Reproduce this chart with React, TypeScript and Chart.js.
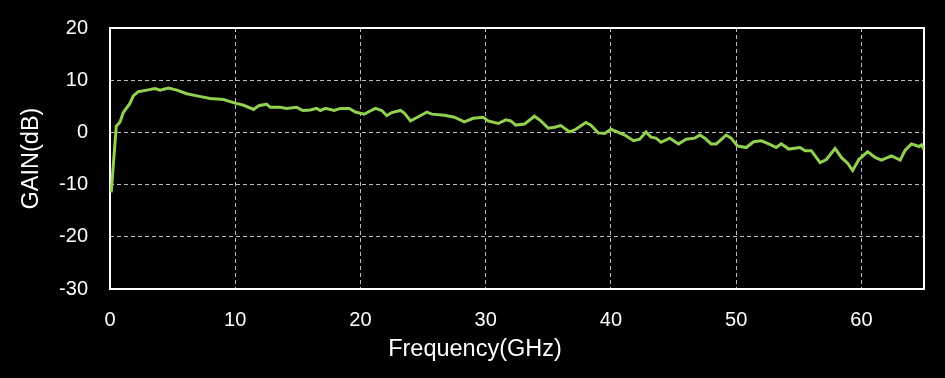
import React, { useEffect, useRef } from "react";
import { Chart, registerables } from "chart.js";

Chart.register(...registerables);

const freqGHz = [
  0.1, 0.5, 0.8, 1.06, 1.6, 1.86, 2.26, 2.94, 3.6, 4.0, 4.67, 5.34, 6.14, 6.94, 8.0, 9.07, 9.6, 10.0,
  10.67, 11.47, 11.87, 12.5, 12.8, 13.6, 14.1, 14.9, 15.4, 16.0, 16.5, 16.8, 17.2, 17.9, 18.4, 19.1,
  19.6, 20.3, 20.7, 21.2, 21.7, 22.1, 22.5, 23.2, 23.5, 24.0, 24.7, 25.3, 25.7, 26.7, 27.5, 28.3,
  29.0, 29.8, 30.2, 31.0, 31.6, 32.0, 32.4, 33.1, 33.9, 34.4, 35.0, 35.5, 36.0, 36.7, 37.2, 38.0,
  38.4, 39.0, 39.5, 40.0, 40.5, 41.1, 41.8, 42.3, 42.8, 43.2, 43.6, 44.0, 44.7, 45.4, 46.0, 46.7,
  47.1, 47.5, 48.0, 48.4, 48.8, 49.2, 49.6, 50.1, 50.8, 51.4, 52.0, 52.6, 53.2, 53.6, 54.2, 55.1,
  55.5, 56.0, 56.7, 57.2, 57.9, 58.4, 58.9, 59.3, 59.8, 60.5, 61.1, 61.6, 62.4, 63.1, 63.5, 64.0,
  64.6, 64.8, 65.0,
];

const gainDb = [
  -11.5, 1.2, 2.0, 3.8, 5.6, 7.0, 7.8, 8.1, 8.4, 8.1, 8.5, 8.1, 7.4, 7.0, 6.5, 6.3, 5.9, 5.6,
  5.2, 4.4, 5.1, 5.4, 4.8, 4.8, 4.6, 4.8, 4.2, 4.3, 4.6, 4.2, 4.6, 4.2, 4.6, 4.6,
  3.9, 3.5, 4.0, 4.6, 4.2, 3.2, 3.8, 4.2, 3.7, 2.2, 3.1, 3.9, 3.5, 3.3, 2.9, 2.0,
  2.7, 2.9, 2.2, 1.7, 2.4, 2.2, 1.4, 1.6, 3.1, 2.2, 0.8, 1.0, 1.3, 0.1, 0.6, 1.9,
  1.4, -0.1, -0.2, 0.6, 0.1, -0.5, -1.6, -1.3, 0.1, -0.9, -1.1, -1.9, -1.1, -2.2, -1.3, -1.1,
  -0.5, -1.1, -2.2, -2.2, -1.4, -0.5, -1.1, -2.6, -2.9, -1.8, -1.6, -2.2, -2.9, -2.2, -3.2, -2.9,
  -3.5, -3.5, -5.8, -5.2, -3.1, -4.8, -5.9, -7.3, -5.2, -3.7, -4.8, -5.3, -4.5, -5.3, -3.4, -2.2,
  -2.7, -2.4, -3.2,
];

const xTickValues = [0, 10, 20, 30, 40, 50, 60];
const yTickValues = [-30, -20, -10, 0, 10, 20];
const xTitle = "Frequency(GHz)";
const yTitle = "GAIN(dB)";

const FONT = '"Liberation Sans", Arial, sans-serif';

export default function App() {
  const ref = useRef<HTMLCanvasElement>(null);

  useEffect(() => {
    const canvas = ref.current;
    if (!canvas) return;

    const borderPlugin = {
      id: "plotBorder",
      beforeDatasetsDraw(chart: any) {
        const { ctx, chartArea: a } = chart;
        ctx.save();
        ctx.strokeStyle = "#ffffff";
        ctx.lineWidth = 2;
        ctx.setLineDash([]);
        ctx.strokeRect(a.left, a.top, a.right - a.left, a.bottom - a.top);
        ctx.restore();
      },
    };

    const tickFont = { family: FONT, size: 20, weight: "normal" as const };
    const titleFont = { family: FONT, size: 23.5, weight: "normal" as const, lineHeight: 1.2 };
    const gridOpts = { color: "#bfbfbf", lineWidth: 1, drawTicks: false };

    const chart = new Chart(canvas, {
      type: "line",
      data: {
        datasets: [
          {
            data: freqGHz.map((x, i) => ({ x, y: gainDb[i] })),
            borderColor: "#92D050",
            borderWidth: 3,
            pointRadius: 0,
            tension: 0,
            fill: false,
          },
        ],
      },
      options: {
        responsive: false,
        animation: false,
        devicePixelRatio: 1,
        layout: { padding: { top: 28, right: 21, left: 26, bottom: 0 }, autoPadding: false },
        plugins: {
          legend: { display: false },
          tooltip: { enabled: false },
          title: {
            display: true,
            position: "bottom",
            text: xTitle,
            color: "#ffffff",
            font: titleFont,
            padding: { top: 0, bottom: 14 },
          },
        },
        scales: {
          x: {
            type: "linear",
            min: 0,
            max: 65,
            afterFit: (s: any) => {
              s.height = 46.8;
              s.paddingLeft = 0;
              s.paddingRight = 0;
            },
            afterBuildTicks: (s: any) => {
              s.ticks = xTickValues.map((v) => ({ value: v }));
            },
            ticks: { color: "#ffffff", font: tickFont, padding: 19, maxRotation: 0, autoSkip: false },
            grid: gridOpts,
            border: { display: false, dash: [4, 3] },
          },
          y: {
            type: "linear",
            min: -30,
            max: 20,
            afterFit: (s: any) => {
              s.width = 84;
              s.paddingTop = 0;
              s.paddingBottom = 0;
            },
            afterBuildTicks: (s: any) => {
              s.ticks = yTickValues.map((v) => ({ value: v }));
            },
            ticks: { color: "#ffffff", font: tickFont, padding: 22, autoSkip: false },
            title: {
              display: true,
              text: yTitle,
              color: "#ffffff",
              font: titleFont,
              padding: { top: -9, bottom: 0 },
            },
            grid: gridOpts,
            border: { display: false, dash: [4, 3] },
          },
        },
      },
      plugins: [borderPlugin],
    } as any);

    return () => chart.destroy();
  }, []);

  return (
    <div
      style={{
        position: "fixed",
        left: 0,
        top: 0,
        width: 945,
        height: 378,
        background: "#000000",
      }}
    >
      <canvas ref={ref} width={945} height={378} style={{ display: "block" }} />
    </div>
  );
}
